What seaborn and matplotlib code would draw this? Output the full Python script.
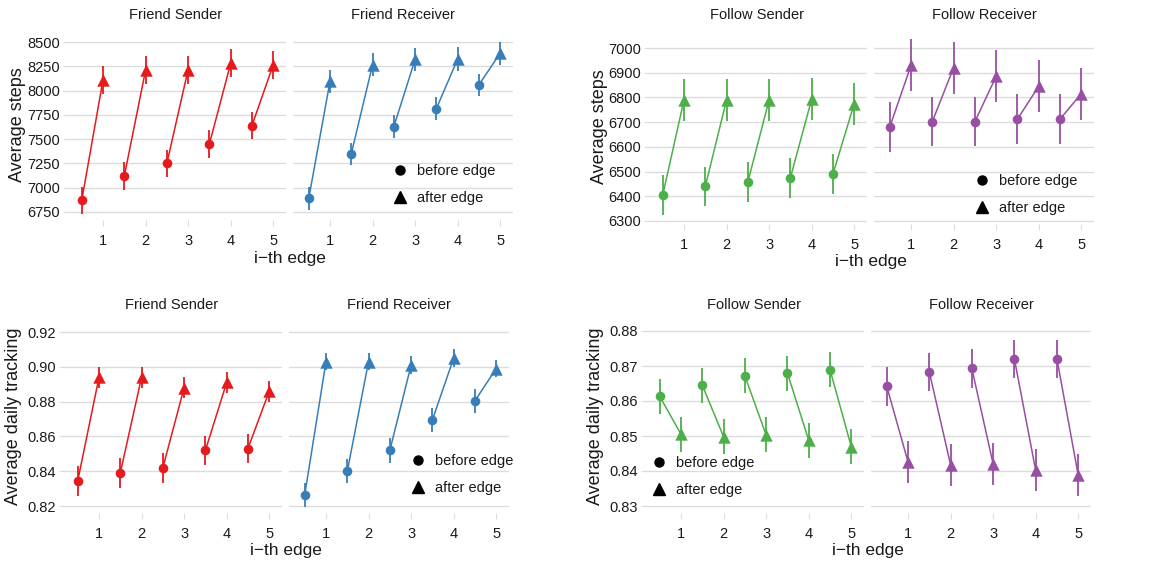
import pandas as pd
import numpy as np
import matplotlib.pyplot as plt
import seaborn as sns
from matplotlib.lines import Line2D

# values
edges = [1, 2, 3, 4, 5]
phases = ["before edge", "after edge"]

fs_steps_before = [6870, 7120, 7250, 7450, 7640]
fs_steps_after = [8110, 8210, 8215, 8280, 8265]
fs_steps_err = [140, 145]
fr_steps_before = [6890, 7350, 7630, 7815, 8060]
fr_steps_after = [8095, 8265, 8320, 8325, 8385]
fr_steps_err = [115, 120]

ws_steps_before = [6405, 6440, 6458, 6475, 6490]
ws_steps_after = [6790, 6790, 6790, 6793, 6775]
ws_steps_err = [80, 85]
wr_steps_before = [6680, 6702, 6702, 6712, 6712]
wr_steps_after = [6930, 6920, 6885, 6845, 6815]
wr_steps_err = [100, 105]

fs_track_before = [0.8345, 0.839, 0.842, 0.852, 0.853]
fs_track_after = [0.894, 0.894, 0.888, 0.891, 0.886]
fs_track_err = [0.0085, 0.006]
fr_track_before = [0.8265, 0.840, 0.852, 0.8695, 0.8805]
fr_track_after = [0.903, 0.903, 0.901, 0.905, 0.899]
fr_track_err = [0.007, 0.005]

ws_track_before = [0.8613, 0.8645, 0.8672, 0.868, 0.869]
ws_track_after = [0.8505, 0.8498, 0.8503, 0.8488, 0.8470]
ws_track_err = [0.005, 0.005]
wr_track_before = [0.8642, 0.8683, 0.8693, 0.872, 0.872]
wr_track_after = [0.8426, 0.8418, 0.8420, 0.8402, 0.8388]
wr_track_err = [0.0055, 0.006]

colors = {"Friend Sender": "#E41A1C", "Friend Receiver": "#377EB8",
          "Follow Sender": "#4DAF4A", "Follow Receiver": "#984EA3"}


def make_df(before, after, err):
    rows = []
    for i, e in enumerate(edges):
        rows.append({"edge": e, "x": e - 0.5, "y": before[i], "err": err[0], "phase": phases[0]})
        rows.append({"edge": e, "x": e, "y": after[i], "err": err[1], "phase": phases[1]})
    return pd.DataFrame(rows)


sns.set_theme(style="white")
plt.rcParams["font.family"] = ["Liberation Sans", "DejaVu Sans"]

W, H = 1152, 568
fig = plt.figure(figsize=(W / 100, H / 100), dpi=100)

grid_c = "#DCDCDC"
text_c = "#1a1a1a"
facet_w, pitch = 220, 227
xlim = (0.13, 5.3)

# group: facet names, data, ylabel, left px, top px, bottom px,
# y calibration (v_hi, y_hi, v_lo, y_lo), ticks, fmt, legend facet, legend first-key pos (px)
groups = [
    (["Friend Sender", "Friend Receiver"],
     [make_df(fs_steps_before, fs_steps_after, fs_steps_err), make_df(fr_steps_before, fr_steps_after, fr_steps_err)],
     "Average steps", 66, 30, 220, (8500, 42, 6750, 212), np.arange(6750, 8501, 250), "{:.0f}", 1, (400, 171)),
    (["Follow Sender", "Follow Receiver"],
     [make_df(ws_steps_before, ws_steps_after, ws_steps_err), make_df(wr_steps_before, wr_steps_after, wr_steps_err)],
     "Average steps", 647, 30, 224, (7000, 48, 6300, 221), np.arange(6300, 7001, 100), "{:.0f}", 1, (982, 181)),
    (["Friend Sender", "Friend Receiver"],
     [make_df(fs_track_before, fs_track_after, fs_track_err), make_df(fr_track_before, fr_track_after, fr_track_err)],
     "Average daily tracking", 62, 320, 513, (0.92, 332, 0.82, 506), np.arange(0.82, 0.921, 0.02), "{:.2f}", 1, (418, 461)),
    (["Follow Sender", "Follow Receiver"],
     [make_df(ws_track_before, ws_track_after, ws_track_err), make_df(wr_track_before, wr_track_after, wr_track_err)],
     "Average daily tracking", 644, 320, 513, (0.88, 331, 0.83, 506), np.arange(0.83, 0.881, 0.01), "{:.2f}", 0, (659, 463)),
]

for names, dfs, ylab, left, top, bottom, cal, ticks, fmt, leg_i, leg_pos in groups:
    v_hi, y_hi, v_lo, y_lo = cal
    scale = (y_lo - y_hi) / (v_hi - v_lo)
    ylim = (v_lo - (bottom - y_lo) / scale, v_hi + (y_hi - top) / scale)
    for k, (name, df) in enumerate(zip(names, dfs)):
        l = left + k * pitch
        ax = fig.add_axes([l / W, 1 - bottom / H, facet_w / W, (bottom - top) / H])
        c = colors[name]
        ax.vlines(df["x"], df["y"] - df["err"], df["y"] + df["err"], color=c, lw=1.3, zorder=2)
        sns.lineplot(data=df, x="x", y="y", units="edge", estimator=None, color=c, lw=1.1,
                     ax=ax, legend=False, zorder=3)
        sns.scatterplot(data=df[df["phase"] == phases[0]], x="x", y="y", marker="o", s=48,
                        color=c, linewidth=0, ax=ax, legend=False, zorder=4)
        sns.scatterplot(data=df[df["phase"] == phases[1]], x="x", y="y", marker="^", s=80,
                        color=c, linewidth=0, ax=ax, legend=False, zorder=4)
        ax.set_xlim(*xlim)
        ax.set_ylim(*ylim)
        ax.set_xticks(edges)
        ax.set_xticklabels([str(e) for e in edges])
        ax.set_yticks(ticks)
        if k == 0:
            ax.set_yticklabels([fmt.format(t) for t in ticks])
        else:
            ax.set_yticklabels([])
        ax.grid(axis="y", color=grid_c, lw=1.0)
        ax.grid(axis="x", visible=False)
        ax.set_axisbelow(True)
        for s in ax.spines.values():
            s.set_visible(False)
        ax.tick_params(axis="x", length=4, width=0.8, color=grid_c, pad=6, labelsize=10.5,
                       labelcolor=text_c, direction="out", bottom=True)
        ax.tick_params(axis="y", length=2.5 if k == 0 else 0, width=0.8, color=grid_c, pad=2,
                       labelsize=10.5, labelcolor=text_c, left=True)
        ax.set_xlabel("")
        ax.set_ylabel("")
        ax.set_title(name, fontsize=10.5, pad=8, color=text_c)
        if k == leg_i:
            handles = [Line2D([], [], marker="o", ls="", color="black", markersize=6.5),
                       Line2D([], [], marker="^", ls="", color="black", markersize=8)]
            px, py = leg_pos
            anchor = ((px - 13 - l) / facet_w, (bottom - (py - 13)) / (bottom - top))
            ax.legend(handles, phases, loc="upper left", bbox_to_anchor=anchor,
                      frameon=False, fontsize=10.5, handlelength=1.0, handletextpad=0.65,
                      labelspacing=0.88, borderaxespad=0.0, labelcolor=text_c)
    cx = left + (pitch + facet_w) / 2
    fig.text(cx / W, 1 - (bottom + 38) / H, "i\u2212th edge", ha="center", va="center",
             fontsize=12.5, color=text_c)
    fig.text((left - 48) / W, 1 - ((top + bottom) / 2) / H, ylab, rotation=90,
             ha="center", va="center", fontsize=13, color=text_c)

fig.savefig("out.png", dpi=100, facecolor="white")
